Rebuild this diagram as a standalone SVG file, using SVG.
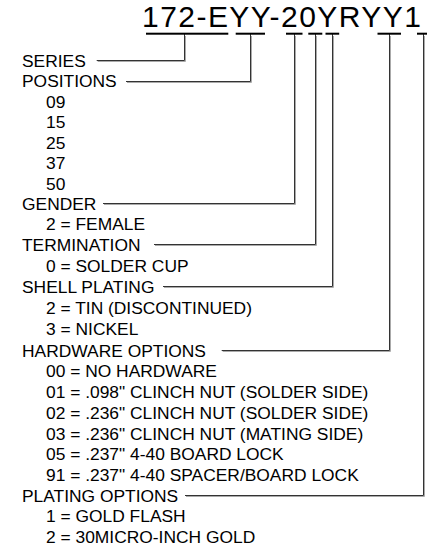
<svg xmlns="http://www.w3.org/2000/svg" width="427" height="548" viewBox="0 0 427 548">
<style>
text{font-family:"Liberation Sans",Arial,sans-serif;fill:#000}
.t{font-size:30px}
.l{font-size:17.4px}
.v{font-size:17.4px}
.c{fill:none;stroke:#333;stroke-width:1}
.s{fill:none;stroke:#aaa;stroke-width:1}
.u{fill:#000}
</style>
<rect width="427" height="548" fill="#fff"/>
<g id="title"><text class="t" x="142" y="27.3" textLength="279" lengthAdjust="spacing">172-EYY-20YRYY1</text></g>
<g id="connectors">
<g class="s" transform="translate(1,1)">
<path d="M96.7,60.5H184.5V35"/>
<path d="M126,81.5H250.5V35"/>
<path d="M103,203.5H294.5V35"/>
<path d="M154,244.5H315.5V35"/>
<path d="M163,286.5H332.5V35"/>
<path d="M221.7,350.5H389.5V35"/>
<path d="M185,495.5H423.5V35"/>
</g>
<g class="c">
<path d="M96.7,60.5H184.5V34"/>
<path d="M126,81.5H250.5V34"/>
<path d="M103,203.5H294.5V34"/>
<path d="M154,244.5H315.5V34"/>
<path d="M163,286.5H332.5V34"/>
<path d="M221.7,350.5H389.5V34"/>
<path d="M185,495.5H423.5V34"/>
</g>
<g class="u">
<rect x="146" y="32.7" width="82.3" height="2"/>
<rect x="235.7" y="32.7" width="29.3" height="2"/>
<rect x="286" y="32.7" width="16.5" height="2"/>
<rect x="308.3" y="32.7" width="14" height="2"/>
<rect x="325.5" y="32.7" width="13.7" height="2"/>
<rect x="377.5" y="32.7" width="23.5" height="2"/>
<rect x="417" y="32.7" width="10" height="2"/>
</g>
</g>
<g id="series"><text class="l" x="22" y="66.7">SERIES</text></g>
<g id="positions">
<text class="l" x="22" y="87">POSITIONS</text>
<text class="v" x="46" y="107.5">09</text>
<text class="v" x="46" y="128">15</text>
<text class="v" x="46" y="148.5">25</text>
<text class="v" x="46" y="169">37</text>
<text class="v" x="46" y="189.5">50</text>
</g>
<g id="gender">
<text class="l" x="22" y="209.5">GENDER</text>
<text class="v" x="46" y="230">2 = FEMALE</text>
</g>
<g id="termination">
<text class="l" x="22" y="250.5">TERMINATION</text>
<text class="v" x="46" y="271.5">0 = SOLDER CUP</text>
</g>
<g id="shell-plating">
<text class="l" x="22" y="292.7">SHELL PLATING</text>
<text class="v" x="46" y="314">2 = TIN (DISCONTINUED)</text>
<text class="v" x="46" y="335.3">3 = NICKEL</text>
</g>
<g id="hardware-options">
<text class="l" x="22" y="356.5">HARDWARE OPTIONS</text>
<text class="v" x="46" y="377">00 = NO HARDWARE</text>
<text class="v" x="46" y="397.7">01 = .098" CLINCH NUT (SOLDER SIDE)</text>
<text class="v" x="46" y="418.5">02 = .236" CLINCH NUT (SOLDER SIDE)</text>
<text class="v" x="46" y="439.5">03 = .236" CLINCH NUT (MATING SIDE)</text>
<text class="v" x="46" y="460.3">05 = .237" 4-40 BOARD LOCK</text>
<text class="v" x="46" y="481">91 = .237" 4-40 SPACER/BOARD LOCK</text>
</g>
<g id="plating-options">
<text class="l" x="22" y="501.5">PLATING OPTIONS</text>
<text class="v" x="46" y="522">1 = GOLD FLASH</text>
<text class="v" x="46" y="542.5">2 = 30MICRO-INCH GOLD</text>
</g>
</svg>
